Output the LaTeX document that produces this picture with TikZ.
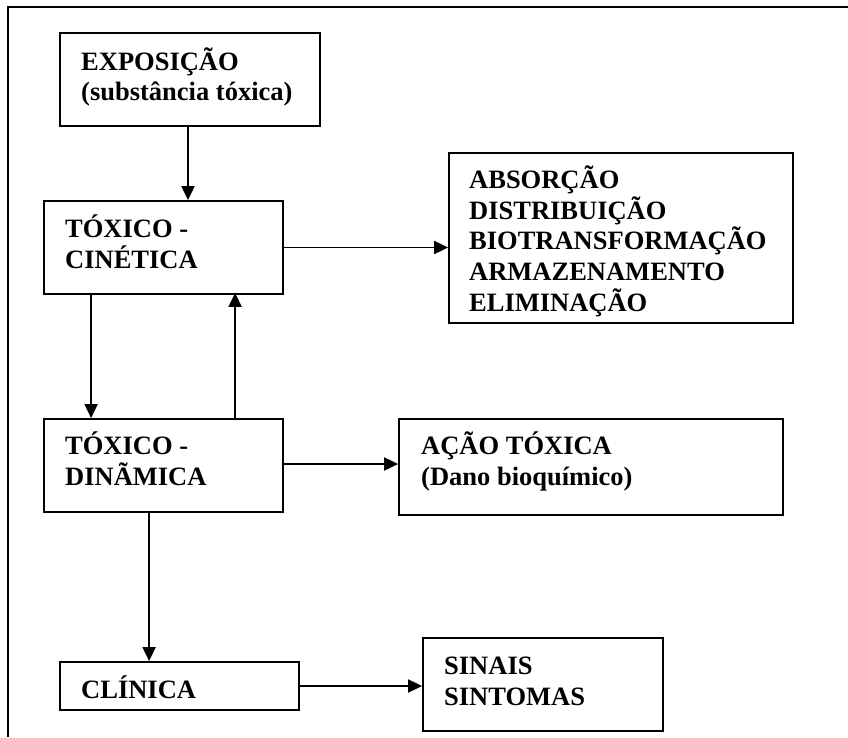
\documentclass[tikz,border=0pt]{standalone}
\usepackage{fontspec}
\setmainfont{Liberation Serif}
\usetikzlibrary{arrows.meta}
\begin{document}
\begin{tikzpicture}[x=1pt,y=-1pt,
  box/.style={draw, line width=1.8pt, rectangle, inner sep=0pt},
  txt/.style={anchor=base west, inner sep=0pt, align=left, font=\fontsize{26.5}{30.6}\selectfont\bfseries},
  arr/.style={line width=1.9pt, -{Triangle[length=14pt,width=13pt]}}]
\useasboundingbox (0,0) rectangle (848,737);
% frame
\draw[line width=2.4pt] (8,737) -- (8,7) -- (848,7);
% boxes
\node[box, minimum width=260pt, minimum height=93pt] (expo) at (190,79.5) {};
\node[box, minimum width=239pt, minimum height=93pt] (cin) at (163.5,247.5) {};
\node[box, minimum width=344pt, minimum height=170pt] (abs) at (621,238) {};
\node[box, minimum width=239pt, minimum height=93pt] (dyn) at (163.5,465.5) {};
\node[box, minimum width=384pt, minimum height=96pt] (acao) at (591,467) {};
\node[box, minimum width=239pt, minimum height=48pt] (clin) at (179.5,686) {};
\node[box, minimum width=240pt, minimum height=93pt] (sin) at (543,684.5) {};
% texts (anchor = baseline of last line)
\node[txt] (texpo) at (81,100.6) {EXPOSIÇÃO\\(substância tóxica)};
\node[txt] (tcin) at (65,268) {TÓXICO -\\CINÉTICA};
\node[txt] (tabs) at (469,311) {ABSORÇÃO\\DISTRIBUIÇÃO\\BIOTRANSFORMAÇÃO\\ARMAZENAMENTO\\ELIMINAÇÃO};
\node[txt] (tdyn) at (65,485) {TÓXICO -\\DINÃMICA};
\node[txt] (tacao) at (421,485) {AÇÃO TÓXICA\\(Dano bioquímico)};
\node[txt] (tclin) at (81,698) {CLÍNICA};
\node[txt] (tsin) at (444,705) {SINAIS\\SINTOMAS};
% connectors
\coordinate (e1) at ([xshift=-2pt,yshift=2pt]expo.south);
\draw[arr] (e1) -- (e1 |- cin.north);
\draw[arr] (cin.east) -- (cin.east -| abs.west);
\coordinate (c1) at ([xshift=48pt,yshift=2pt]cin.south west);
\draw[arr] (c1) -- (c1 |- dyn.north);
\coordinate (d1) at ([xshift=192pt]dyn.north west);
\draw[arr] (d1) -- ([yshift=2pt]d1 |- cin.south);
\draw[arr] ([yshift=1.5pt]dyn.east) -- ([yshift=1.5pt]dyn.east -| acao.west);
\coordinate (d2) at ([xshift=106pt,yshift=2pt]dyn.south west);
\draw[arr] (d2) -- (d2 |- clin.north);
\draw[arr] (clin.east) -- (clin.east -| sin.west);
\end{tikzpicture}
\end{document}
